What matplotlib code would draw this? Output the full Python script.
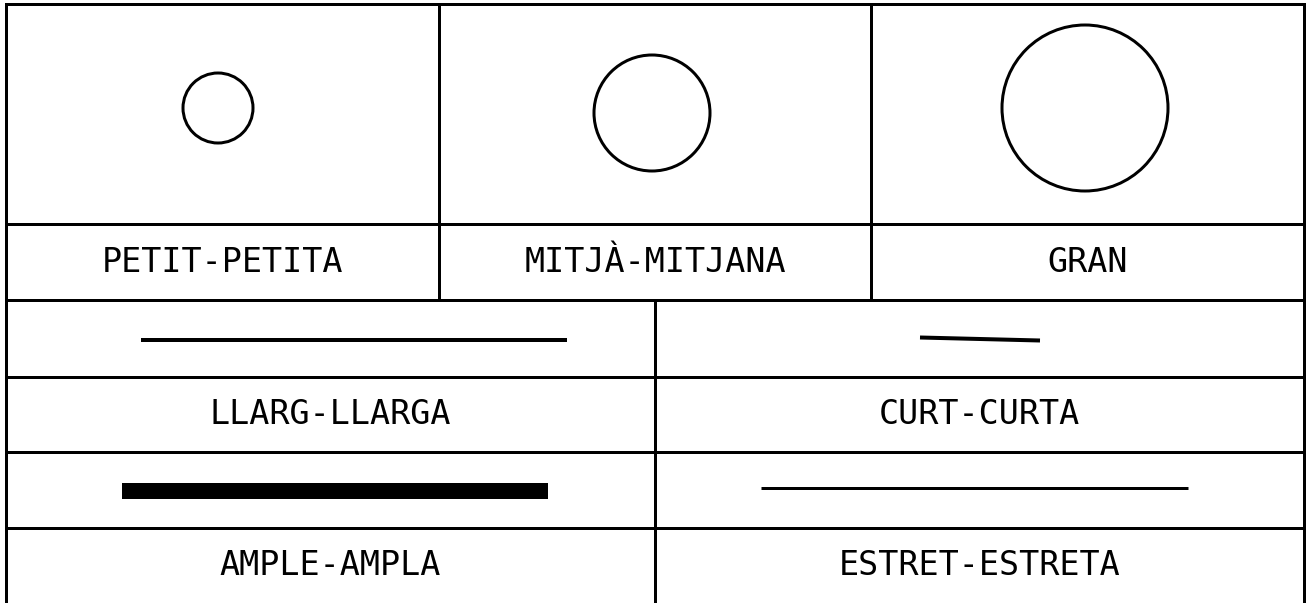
import matplotlib
matplotlib.use("Agg")
import matplotlib.pyplot as plt
from matplotlib.patches import Circle

W, H = 1307, 603

# Table grid (pixel coordinates)
row_edges = [4, 224, 300, 377, 452, 528]
top_cols = [6, 439, 871, 1304]
bottom_cols = [6, 655, 1304]

# Labels
top_labels = ["PETIT-PETITA", "MITJÀ-MITJANA", "GRAN"]
mid_labels = ["LLARG-LLARGA", "CURT-CURTA"]
bot_labels = ["AMPLE-AMPLA", "ESTRET-ESTRETA"]

# Circles: centers and radii
circle_x = [218, 652, 1085]
circle_y = [108, 113, 108]
circle_r = [35, 58, 83]

# Line samples: (x0, y0, x1, y1, width px)
seg_x0 = [141, 920, 122, 761]
seg_y0 = [339.5, 337.5, 491, 487.5]
seg_x1 = [567, 1040, 548, 1188]
seg_y1 = [339.5, 340.5, 491, 487.5]
seg_w = [4, 4, 16, 3]

fig = plt.figure(figsize=(W / 100, H / 100), dpi=100)
ax = fig.add_axes([0, 0, 1, 1])
ax.set_xlim(0, W)
ax.set_ylim(H, 0)
ax.axis("off")

pt = 72 / 100
lw = 3 * pt
k = dict(color="black", lw=lw, solid_capstyle="projecting")

# outer borders
ax.plot([top_cols[0], top_cols[-1]], [row_edges[0], row_edges[0]], **k)
ax.plot([top_cols[0], top_cols[0]], [row_edges[0], H], **k)
ax.plot([top_cols[-1], top_cols[-1]], [row_edges[0], H], **k)
# horizontal rules
for y in row_edges[1:]:
    ax.plot([top_cols[0], top_cols[-1]], [y, y], **k)
# inner verticals
for x in top_cols[1:-1]:
    ax.plot([x, x], [row_edges[0], row_edges[2]], **k)
for x in bottom_cols[1:-1]:
    ax.plot([x, x], [row_edges[2], H], **k)

# circles
for cx, cy, r in zip(circle_x, circle_y, circle_r):
    ax.add_patch(Circle((cx, cy), r, fill=False, ec="black", lw=3 * pt))

# line samples
for x0, y0, x1, y1, w in zip(seg_x0, seg_y0, seg_x1, seg_y1, seg_w):
    ax.plot([x0, x1], [y0, y1], color="black", lw=w * pt, solid_capstyle="butt")

font = dict(family="DejaVu Sans Mono", fontsize=24, ha="center", va="center", color="black")

def centers(cols):
    return [(a + b) / 2 for a, b in zip(cols[:-1], cols[1:])]

for x, t in zip(centers(top_cols), top_labels):
    ax.text(x, (row_edges[1] + row_edges[2]) / 2, t, **font)
for x, t in zip(centers(bottom_cols), mid_labels):
    ax.text(x, (row_edges[3] + row_edges[4]) / 2, t, **font)
for x, t in zip(centers(bottom_cols), bot_labels):
    ax.text(x, (row_edges[5] + H) / 2, t, **font)

fig.savefig("out.png", dpi=100)
